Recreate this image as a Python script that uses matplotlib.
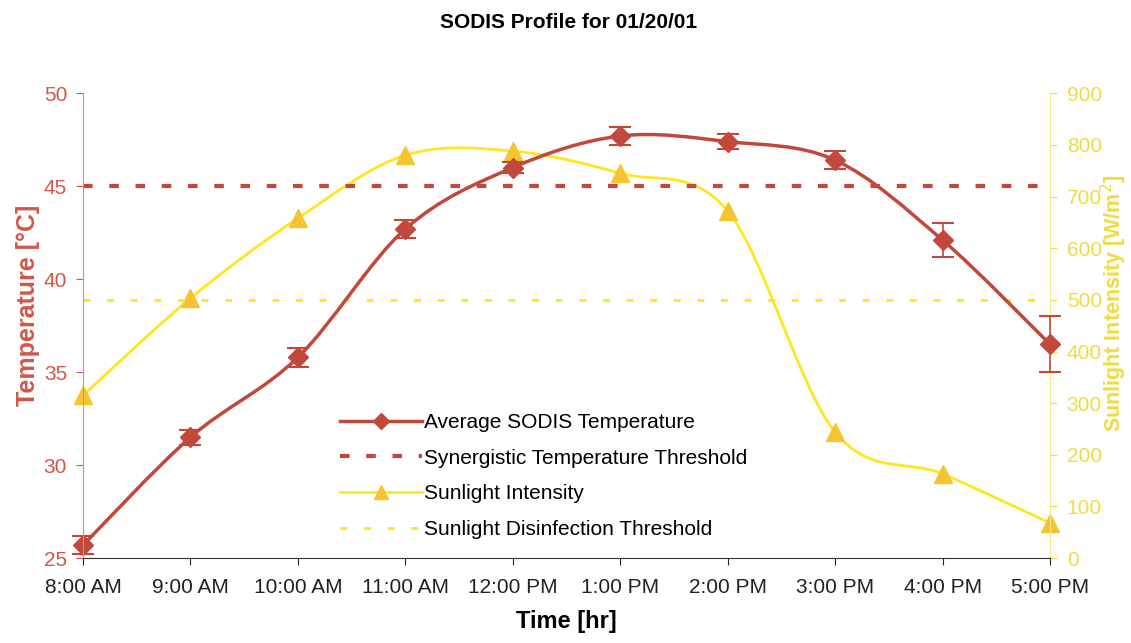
import numpy as np
import matplotlib
matplotlib.use("Agg")
import matplotlib.pyplot as plt
from matplotlib.path import Path
from matplotlib.patches import PathPatch
from matplotlib.lines import Line2D

plt.rcParams['font.family'] = ['Liberation Sans', 'DejaVu Sans']

# SODIS run, 01/20/01
times = ['8:00 AM', '9:00 AM', '10:00 AM', '11:00 AM', '12:00 PM',
         '1:00 PM', '2:00 PM', '3:00 PM', '4:00 PM', '5:00 PM']
temp_avg = [25.7, 31.5, 35.8, 42.7, 46.0, 47.7, 47.4, 46.4, 42.1, 36.5]
temp_err = [0.5, 0.4, 0.5, 0.5, 0.3, 0.5, 0.4, 0.5, 0.9, 1.5]
sunlight = [315, 503, 658, 780, 788, 745, 672, 244, 163, 68]
temp_threshold = 45
sun_threshold = 500

RED = '#C2483B'
RED_TXT = '#D4564A'
YEL = '#FFE61E'
YEL_MK = '#F5C531'
YEL_TXT = '#F0DC40'


def smooth_path(x, y):
    # Excel-style smoothed line: cubic Bezier segments (Catmull-Rom controls)
    x = np.asarray(x, float)
    y = np.asarray(y, float)
    pts = np.column_stack([x, y])
    verts = [pts[0]]
    codes = [Path.MOVETO]
    n = len(pts)
    for i in range(n - 1):
        p0 = pts[max(i - 1, 0)]
        p1 = pts[i]
        p2 = pts[i + 1]
        p3 = pts[min(i + 2, n - 1)]
        c1 = p1 + (p2 - p0) / 6.0
        c2 = p2 - (p3 - p1) / 6.0
        verts += [c1, c2, p2]
        codes += [Path.CURVE4] * 3
    return Path(verts, codes)


fig = plt.figure(figsize=(11.31, 6.43), dpi=100)
ax = fig.add_axes([0.0734, 0.132, 0.855, 0.723])
ax2 = ax.twinx()

x = np.arange(len(times))

# sunlight on right axis
ax2.add_patch(PathPatch(smooth_path(x, sunlight), fill=False, edgecolor=YEL, lw=2))
ax2.plot(x, sunlight, ls='none', marker='^', ms=13, color=YEL_MK,
         markeredgecolor=YEL_MK, clip_on=False)
ax2.axhline(sun_threshold, color=YEL, lw=2, ls=(0, (2.5, 6)))
ax2.set_ylim(0, 900)
ax2.set_yticks(range(0, 901, 100))
ax2.tick_params(axis='y', colors=YEL_TXT, labelsize=15, length=5, width=0.8, pad=7)
ax2.set_ylabel('Sunlight Intensity [W/m$^2$]', color=YEL_TXT, fontsize=15.5,
               fontweight='bold')
ax2.yaxis.set_label_coords(1.05, 0.548)

# temperature on left axis, drawn above sunlight
ax.set_zorder(ax2.get_zorder() + 1)
ax.patch.set_visible(False)
ax.add_patch(PathPatch(smooth_path(x, temp_avg), fill=False, edgecolor=RED, lw=2.5))
ax.errorbar(x, temp_avg, yerr=temp_err, fmt='D', ms=10, color=RED,
            ecolor=RED, elinewidth=1.2, capsize=8, capthick=1.5, clip_on=False)
ax.axhline(temp_threshold, color=RED, lw=3, ls=(0, (2.3, 4)))
ax.set_ylim(25, 50)
ax.set_xlim(0, len(times) - 1)
ax.set_xticks(x)
ax.set_xticklabels(times)
ax.tick_params(axis='x', colors='#222222', labelsize=15, length=5, width=0.8, pad=9)
ax.tick_params(axis='y', colors=RED_TXT, labelsize=15, length=5, width=0.8, pad=6.5)
ax.set_ylabel('Temperature [°C]', color=RED_TXT, fontsize=18, fontweight='bold')
ax.yaxis.set_label_coords(-0.0445, 0.544)
ax.set_xlabel('Time [hr]', fontsize=17, fontweight='bold', labelpad=10)

for a in (ax, ax2):
    a.spines['top'].set_visible(False)
ax.spines['left'].set_color('#E08A80')
ax.spines['right'].set_visible(False)
ax2.spines['left'].set_visible(False)
ax2.spines['right'].set_color('#F5EC80')
ax2.spines['bottom'].set_visible(False)
ax.spines['bottom'].set_color('#333333')

fig.suptitle('SODIS Profile for 01/20/01', x=0.503, y=0.98, fontsize=15, fontweight='bold')

handles = [
    Line2D([], [], color=RED, lw=2.5, marker='D', ms=8),
    Line2D([], [], color=RED, lw=3, ls=(0, (2.3, 4))),
    Line2D([], [], color=YEL, lw=2, marker='^', ms=10, markerfacecolor=YEL_MK,
           markeredgecolor=YEL_MK),
    Line2D([], [], color=YEL, lw=2, ls=(0, (2.5, 6))),
]
labels = ['Average SODIS Temperature', 'Synergistic Temperature Threshold',
          'Sunlight Intensity', 'Sunlight Disinfection Threshold']
ax.legend(handles, labels, loc='upper left', bbox_to_anchor=(0.2575, 0.33),
          frameon=False, fontsize=15, handlelength=3.9, handletextpad=0.1,
          labelspacing=0.8, borderaxespad=0)

fig.savefig('out.png', dpi=100)
